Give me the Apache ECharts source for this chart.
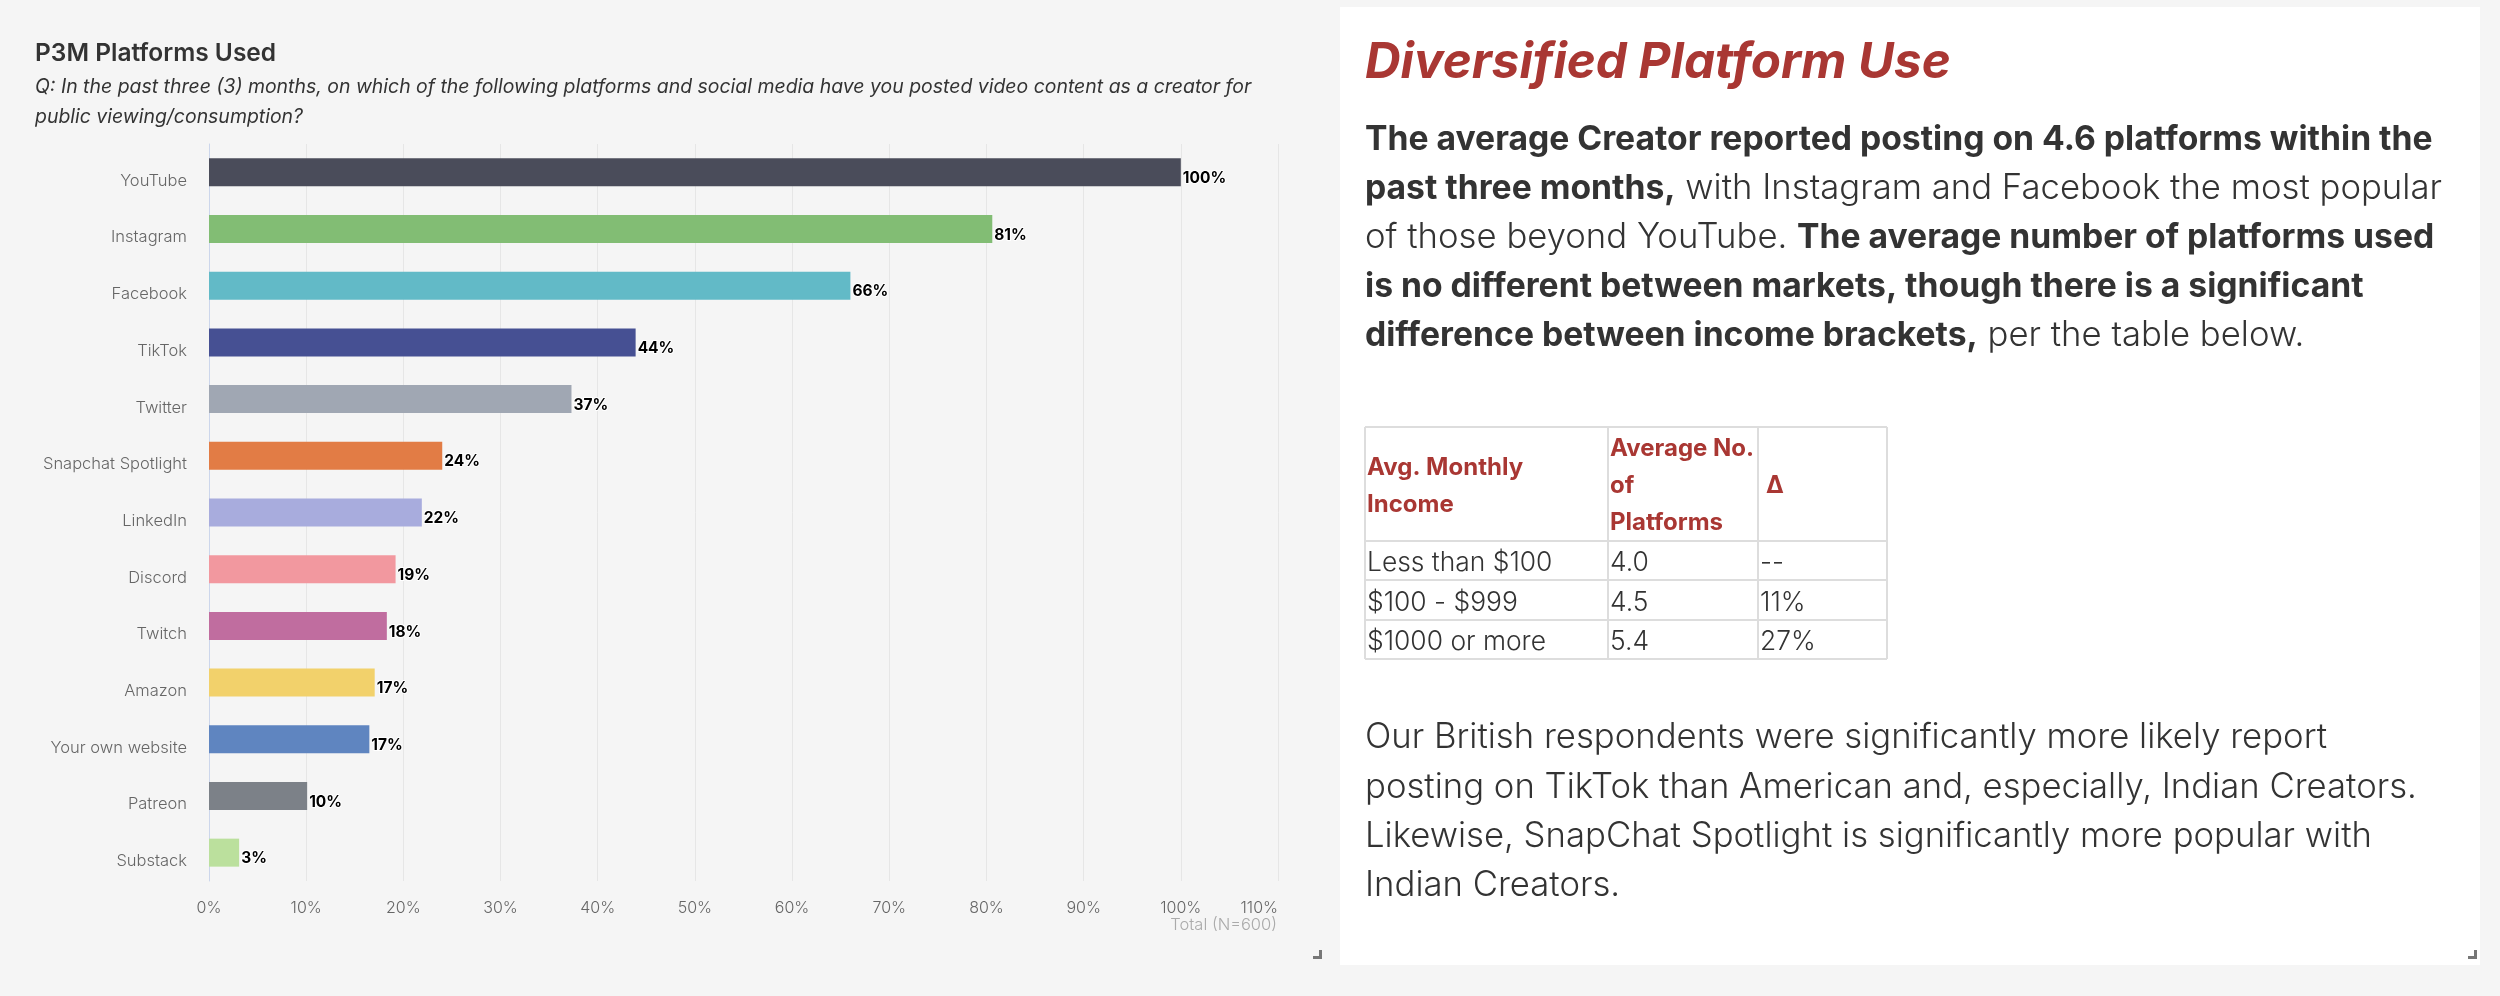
<!DOCTYPE html>
<html><head><meta charset="utf-8">
<script src="https://cdn.jsdelivr.net/npm/echarts@6/dist/echarts.min.js"></script>
<style type="text/css">
html, body { margin: 0; padding: 0; background: #f5f5f5; }
#main { width: 2500px; height: 996px; }
</style></head><body><div id="main"></div><script type="text/javascript">
var platforms = ['YouTube', 'Instagram', 'Facebook', 'TikTok', 'Twitter', 'Snapchat Spotlight', 'LinkedIn', 'Discord', 'Twitch', 'Amazon', 'Your own website', 'Patreon', 'Substack'];
var shares = [100, 80.6, 66, 43.9, 37.3, 24, 21.9, 19.2, 18.3, 17.05, 16.5, 10.1, 3.1];
var barColors = ['#4a4c5a', '#82bd74', '#62bac7', '#465093', '#a0a7b3', '#e27c45', '#a8acdd', '#f2989f', '#c06d9f', '#f2d16b', '#5f85c0', '#7c8188', '#bbe09d'];

var chartTitle = 'P3M Platforms Used';
var chartQuestion = 'Q: In the past three (3) months, on which of the following platforms and social media have you posted video content as a creator for\npublic viewing/consumption?';
var totalNote = 'Total (N=600)';

var panelTitle = 'Diversified Platform Use';
var introLines = [
    [['b', 'The average Creator reported posting on 4.6 platforms within the']],
    [['b', 'past three months,'], ['n', ' with Instagram and Facebook the most popular']],
    [['n', 'of those beyond YouTube. '], ['b', 'The average number of platforms used']],
    [['b', 'is no different between markets, though there is a significant']],
    [['b', 'difference between income brackets,'], ['n', ' per the table below.']]
];
var closingLines = [
    'Our British respondents were significantly more likely report',
    'posting on TikTok than American and, especially, Indian Creators.',
    'Likewise, SnapChat Spotlight is significantly more popular with',
    'Indian Creators.'
];
var tableHead = [['Avg. Monthly', 'Income'], ['Average No.', 'of', 'Platforms'], ['Δ']];
var tableRows = [
    ['Less than $100', '4.0', '--'],
    ['$100 - $999', '4.5', '11%'],
    ['$1000 or more', '5.4', '27%']
];

var font = 'Inter';
var red = '#a93733';
var ink = '#333333';
var graphics = [];

graphics.push({ type: 'rect', shape: { x: 1340, y: 7, width: 1140, height: 958 }, style: { fill: '#ffffff' }, z: 0 });

function addText(text, x, y, size, weight, fill, extra) {
    var style = { text: text, x: x, y: y, fontFamily: font, fontSize: size, fontWeight: weight, fill: fill, verticalAlign: 'middle' };
    for (var k in extra) { style[k] = extra[k]; }
    graphics.push({ type: 'text', style: style, z: 5 });
}
function addLine(x1, y1, x2, y2) {
    graphics.push({ type: 'line', shape: { x1: x1, y1: y1, x2: x2, y2: y2 }, style: { stroke: '#dddddd', lineWidth: 2 }, z: 3 });
}
function addCorner(x, y) {
    graphics.push({ type: 'polygon', shape: { points: [[x + 6, y - 6], [x + 6, y + 3], [x - 3, y + 3], [x - 3, y], [x + 3, y], [x + 3, y - 6]] }, style: { fill: '#777777' }, z: 5 });
}

addText(totalNote, 1277, 925, 16.5, 300, '#aaaaaa', { align: 'right' });
addCorner(1316, 956);
addCorner(2471, 956);

addText(panelTitle, 1365, 63, 49.3, 700, red, { fontStyle: 'italic' });

var bodyRich = {
    b: { fontFamily: font, fontSize: 33.7, fontWeight: 700, fill: ink },
    n: { fontFamily: font, fontSize: 34.7, fontWeight: 300, fill: ink }
};
introLines.forEach(function (line, i) {
    var str = line.map(function (p) { return '{' + p[0] + '|' + p[1] + '}'; }).join('');
    addText(str, 1365, 140 + i * 49, 34, 300, ink, { rich: bodyRich });
});
closingLines.forEach(function (line, i) {
    addText(line, 1365, 738 + i * 49.3, 34.7, 300, ink);
});

// table grid, header and body text
var colX = [1365, 1608, 1758, 1887];
var rowY = [427, 541, 580, 620, 659];
colX.forEach(function (x) { addLine(x, rowY[0], x, rowY[4]); });
rowY.forEach(function (y) { addLine(colX[0], y, colX[3], y); });
tableHead.forEach(function (lines, c) {
    var mid = (rowY[0] + rowY[1]) / 2 + 2;
    lines.forEach(function (txt, l) {
        var x = c == 2 ? colX[c] + 8 : colX[c] + 2;
        addText(txt, x, mid + (l - (lines.length - 1) / 2) * 37, 24, 700, red);
    });
});
tableRows.forEach(function (row, r) {
    row.forEach(function (txt, c) {
        addText(txt, colX[c] + 2, (rowY[r + 1] + rowY[r + 2]) / 2 + 3, 26.4, 300, ink);
    });
});

var myChart = echarts.init(document.getElementById('main'));
myChart.setOption({
    animation: false,
    backgroundColor: '#f5f5f5',
    textStyle: { fontFamily: font },
    title: [
        { text: chartTitle, left: 35, top: 41, padding: 0, textStyle: { fontFamily: font, fontSize: 24.5, fontWeight: 600, color: '#333333' } },
        { text: chartQuestion, left: 35, top: 72, padding: 0, textStyle: { fontFamily: font, fontSize: 19.45, fontWeight: 400, fontStyle: 'italic', color: '#333333', lineHeight: 30 } }
    ],
    grid: { left: 209, top: 144, width: 1069, height: 737, containLabel: false },
    xAxis: {
        type: 'value', min: 0, max: 110, interval: 10,
        axisLine: { show: false }, axisTick: { show: false },
        splitLine: { lineStyle: { color: '#e6e6e6', width: 1 } },
        axisLabel: { margin: 19, fontSize: 16, fontWeight: 300, color: '#666666', alignMaxLabel: 'right', formatter: '{value}%' }
    },
    yAxis: {
        type: 'category', inverse: true, data: platforms,
        axisLine: { lineStyle: { color: '#ccd6eb', width: 1 } }, axisTick: { show: false },
        axisLabel: { margin: 22, fontSize: 16.5, fontWeight: 300, color: '#666666', verticalAlign: 'top' }
    },
    series: [{
        type: 'bar', barWidth: 28,
        data: shares.map(function (v, i) { return { value: v, itemStyle: { color: barColors[i] } }; }),
        label: {
            show: true, position: 'right', distance: 2, offset: [0, 6],
            fontSize: 15.5, fontWeight: 700, color: '#000000',
            textBorderColor: '#ffffff', textBorderWidth: 2,
            formatter: function (p) { return Math.round(p.value) + '%'; }
        }
    }],
    graphic: graphics
});
</script></body></html>
